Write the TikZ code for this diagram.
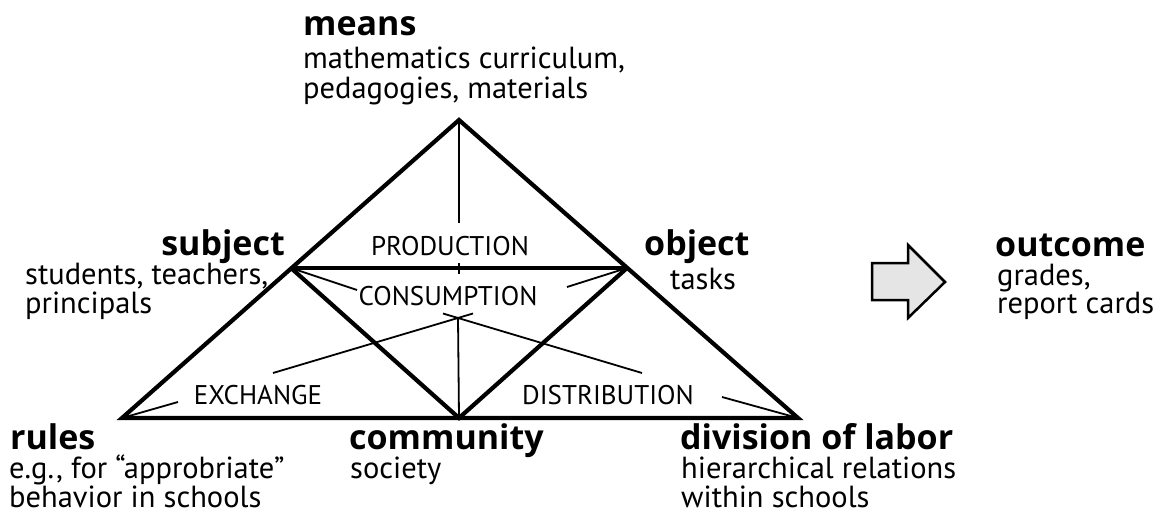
\documentclass[tikz,border=0pt]{standalone}
\usepackage{fontspec}
\setmainfont{PT Sans}
\newfontfamily\headfont{Open Sans}
\begin{document}
\begin{tikzpicture}[x=1pt,y=-1pt,
  txt/.style={inner sep=0pt,anchor=base west,font=\fontsize{30.5}{30}\selectfont},
  head/.style={txt,font=\headfont\fontsize{34}{34}\selectfont\bfseries},
  lab/.style={inner sep=0pt,anchor=base,font=\fontsize{27}{27}\selectfont},
  thick line/.style={line width=4.2pt,line join=miter,line cap=butt},
  thin line/.style={line width=1.8pt},
  bigarrow/.style={draw=black,line width=2.5pt,fill=black!10,line join=miter}]
\useasboundingbox (0,0) rectangle (1167,519);
% vertices
\coordinate (M) at (459,120);
\coordinate (S) at (291,268);
\coordinate (O) at (627,268);
\coordinate (R) at (122,418);
\coordinate (C) at (459,418);
\coordinate (D) at (798,418);
\coordinate (X) at (458,318);
% thin lines ends
\coordinate (Mt) at (459,223);
\coordinate (T1) at (459,263);
\coordinate (T2) at (459,274);
\coordinate (Se) at (357,290);
\coordinate (Oe) at (567,287);
\coordinate (Ex) at (273,373);
\coordinate (Exe) at (473,313.5);
\coordinate (Di) at (642,373);
\coordinate (Die) at (443,313.5);
\coordinate (Re) at (178,402);
\coordinate (De) at (722,397);
% thin lines
\draw[thin line] (M) -- (Mt);
\draw[thin line] (T1) -- (T2);
\draw[thin line] (S) -- (Se);
\draw[thin line] (O) -- (Oe);
\draw[thin line] (Ex) -- (Exe);
\draw[thin line] (Di) -- (Die);
\draw[thin line] (X) -- (C);
\draw[thin line] (R) -- (Re);
\draw[thin line] (D) -- (De);
% thick lines
\draw[thick line] (R) -- (M) -- (D) -- cycle;
\draw[thick line] (S) -- (O);
\draw[thick line] (S) -- (C) -- (O);
% labels inside
\node[lab] (prod) at (450,255) {PRODUCTION};
\node[lab] (cons) at (448,305) {CONSUMPTION};
\node[lab] (exch) at (258,404) {EXCHANGE};
\node[lab] (dist) at (608,404) {DISTRIBUTION};
% means
\node[head] (means) at (303,36) {means};
\node[txt] (means1) at (303,69) {mathematics curriculum,};
\node[txt] (means2) at (303,98) {pedagogies, materials};
% subject
\node[head,anchor=base east] (subj) at (285,255) {subject};
\node[txt] (subj1) at (25,284) {students, teachers,};
\node[txt] (subj2) at (25,313) {principals};
% object
\node[head] (obj) at (644,255) {object};
\node[txt] (obj1) at (670,289) {tasks};
% outcome
\node[head] (outc) at (995,256) {outcome};
\node[txt] (outc1) at (997,285) {grades,};
\node[txt] (outc2) at (997,313) {report cards};
% rules
\node[head] (rules) at (10,449) {rules};
\node[txt] (rules1) at (9,478) {e.g., for “approbriate”};
\node[txt] (rules2) at (9,507) {behavior in schools};
% community
\node[head] (comm) at (349,449) {community};
\node[txt] (comm1) at (350,478) {society};
% division of labor
\node[head] (div) at (680,449) {division of labor};
\node[txt] (div1) at (681,478) {hierarchical relations};
\node[txt] (div2) at (681,507) {within schools};
% block arrow
\draw[bigarrow] (872,263) -- (908,263) -- (908,245) -- (945,282) -- (908,318) -- (908,300) -- (872,300) -- cycle;
\end{tikzpicture}
\end{document}
